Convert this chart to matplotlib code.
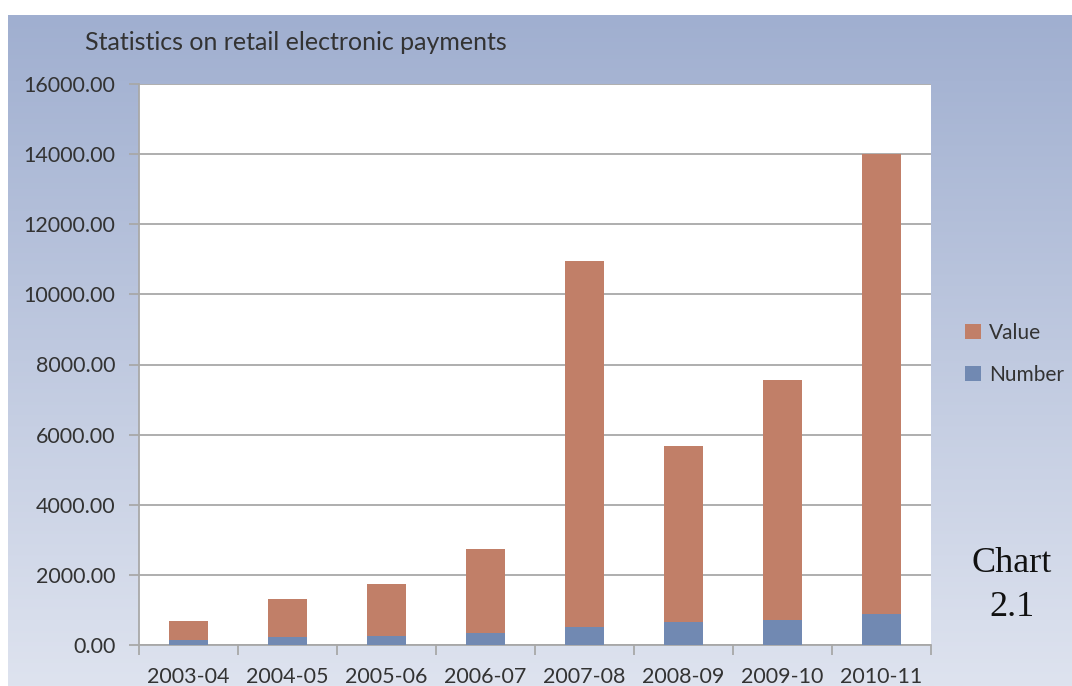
import numpy as np
import matplotlib.pyplot as plt

# data
years = ["2003-04", "2004-05", "2005-06", "2006-07", "2007-08", "2008-09", "2009-10", "2010-11"]
number = [140, 220, 265, 350, 520, 655, 705, 885]
value = [545, 1100, 1485, 2380, 10430, 5020, 6855, 13115]

W, H = 1072, 686
fig = plt.figure(figsize=(W / 100, H / 100), dpi=100)
fig.patch.set_facecolor("white")

# gradient background panel
bg = fig.add_axes([8 / W, 0, 1 - 8 / W, (H - 15) / H])
top_col = np.array([160, 175, 208]) / 255
bot_col = np.array([222, 227, 239]) / 255
t = np.linspace(0, 1, 256)[:, None, None]
grad = top_col[None, None, :] * (1 - t) + bot_col[None, None, :] * t
bg.imshow(grad, aspect="auto", extent=[0, 1, 0, 1])
bg.axis("off")
bg.set_zorder(0)

ax = fig.add_axes([139 / W, (H - 645) / H, (931 - 139) / W, (645 - 84) / H])
ax.set_zorder(1)
ax.set_facecolor("white")

x = np.arange(len(years))
blue = "#7189B2"
orange = "#C17F68"
b1 = ax.bar(x, number, width=0.4, color=blue, zorder=3)
b2 = ax.bar(x, value, width=0.4, bottom=number, color=orange, zorder=3)

ax.set_xlim(-0.5, len(years) - 0.5)
ax.set_ylim(0, 16000)
ax.set_yticks(np.arange(0, 16001, 2000))
ax.set_yticklabels(["%.2f" % v for v in np.arange(0, 16001, 2000)])
ax.yaxis.grid(True, color="#a8a8a8", lw=1.3, zorder=0)
ax.set_axisbelow(True)

ax.set_xticks(x)
ax.set_xticklabels(years)
ax.set_xticks(np.arange(-0.5, len(years), 1), minor=True)
ax.tick_params(axis="x", which="major", length=0, pad=16)
ax.tick_params(axis="x", which="minor", length=7, width=1.3, color="#a8a8a8")
ax.tick_params(axis="y", length=7, width=1.3, color="#a8a8a8", pad=10)

for s in ["top", "right"]:
    ax.spines[s].set_visible(False)
for s in ["left", "bottom"]:
    ax.spines[s].set_color("#a8a8a8")
    ax.spines[s].set_linewidth(1.3)

for lab in ax.get_xticklabels() + ax.get_yticklabels():
    lab.set_fontfamily("Lato")
    lab.set_fontsize(15.5)
    lab.set_color("#333333")

fig.text(85 / W, 1 - 42 / H, "Statistics on retail electronic payments",
         family="Lato", fontsize=18, color="#333333", ha="left", va="center")

leg = fig.legend([b2, b1], ["Value", "Number"], loc="center left",
                 bbox_to_anchor=(965 / W, 1 - 354 / H), frameon=False,
                 borderaxespad=0, borderpad=0,
                 prop={"family": "Lato", "size": 15}, handlelength=0.75,
                 handleheight=0.75, handletextpad=0.4, labelspacing=1.05)
for txt in leg.get_texts():
    txt.set_color("#333333")

fig.text(1012 / W, 1 - 563 / H, "Chart", family="Liberation Serif", fontsize=26,
         ha="center", va="center", color="#111111")
fig.text(1012 / W, 1 - 608 / H, "2.1", family="Liberation Serif", fontsize=26,
         ha="center", va="center", color="#111111")

fig.savefig("out.png", dpi=100)
